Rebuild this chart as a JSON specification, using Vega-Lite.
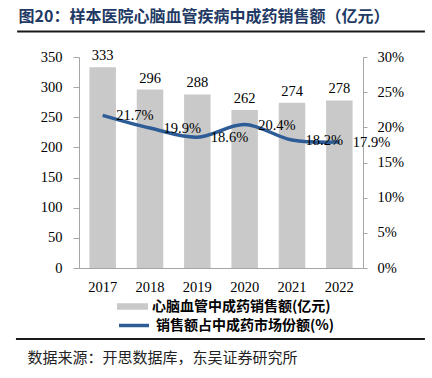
{
  "$schema": "https://vega.github.io/schema/vega-lite/v6.json",
  "width": 284,
  "height": 211,
  "autosize": {"type": "none"},
  "padding": {"left": 79, "top": 57, "right": 69, "bottom": 110},
  "background": "white",
  "view": {"stroke": null},
  "data": {
    "values": [
      {"year": "2017", "sales": 333, "share": 0.217},
      {"year": "2018", "sales": 296, "share": 0.199},
      {"year": "2019", "sales": 288, "share": 0.186},
      {"year": "2020", "sales": 262, "share": 0.204},
      {"year": "2021", "sales": 274, "share": 0.182},
      {"year": "2022", "sales": 278, "share": 0.179}
    ]
  },
  "layer": [
    {
      "data": {"values": [{"a": -0.218, "b": 1.218, "c": 1.121}, {"a": -0.222, "b": 1.218, "c": -0.3365}]},
      "mark": {"type": "rule", "clip": false, "strokeWidth": 2, "color": "#1A1A1A"},
      "encoding": {
        "x": {"field": "a", "type": "quantitative", "scale": {"domain": [0, 1]}, "axis": null},
        "x2": {"field": "b"},
        "y": {"field": "c", "type": "quantitative", "scale": {"domain": [0, 1]}, "axis": null}
      }
    },
    {
      "encoding": {
        "x": {
          "field": "year",
          "type": "nominal",
          "scale": {"paddingInner": 0.44, "paddingOuter": 0.22},
          "axis": {
            "orient": "bottom",
            "grid": false,
            "labelAngle": 0,
            "labelFont": "Liberation Serif",
            "labelFontSize": 14.5,
            "labelColor": "#000000",
            "domainColor": "#A6A6A6",
            "ticks": false,
            "tickSize": 0,
            "labelPadding": 12,
            "title": "数据来源：开思数据库，东吴证券研究所",
            "titleFont": "Noto Sans CJK SC",
            "titleFontSize": 15,
            "titleFontWeight": "normal",
            "titleColor": "#222222",
            "titleAlign": "left",
            "titleAnchor": "start",
            "titleBaseline": "middle",
            "titleX": -52,
            "titleY": 89
          }
        },
        "y": {
          "field": "sales",
          "type": "quantitative",
          "scale": {"domain": [0, 350], "nice": false},
          "axis": {
            "orient": "left",
            "grid": false,
            "values": [0, 50, 100, 150, 200, 250, 300, 350],
            "labelFont": "Liberation Serif",
            "labelFontSize": 14.5,
            "labelColor": "#000000",
            "domainColor": "#A6A6A6",
            "tickColor": "#A6A6A6",
            "tickSize": 6,
            "labelPadding": 11,
            "title": "图20：样本医院心脑血管疾病中成药销售额（亿元）",
            "titleAngle": 0,
            "titleX": -61,
            "titleY": -41,
            "titleAlign": "left",
            "titleAnchor": "start",
            "titleBaseline": "middle",
            "titleFont": "Noto Sans CJK SC",
            "titleFontSize": 16,
            "titleFontWeight": "bold",
            "titleColor": "#1F3A64"
          }
        }
      },
      "layer": [
        {
          "mark": {"type": "bar"},
          "encoding": {
            "fill": {
              "datum": "心脑血管中成药销售额(亿元)",
              "scale": {"range": ["#C9C9C9"]},
              "legend": {
                "orient": "none",
                "legendX": 38,
                "legendY": 234,
                "title": null,
                "padding": 0,
                "labelFont": "Noto Sans CJK SC",
                "labelFontSize": 14,
                "labelFontWeight": "bold",
                "labelColor": "#000000",
                "labelLimit": 0,
                "symbolType": "M-1,-0.21H1V0.21H-1Z",
                "symbolSize": 961,
                "symbolStrokeWidth": 0,
                "symbolOpacity": 1,
                "labelOffset": 4
              }
            }
          }
        },
        {
          "mark": {
            "type": "text",
            "baseline": "bottom",
            "dy": -4,
            "font": "Liberation Serif",
            "fontSize": 14.5,
            "color": "#000000"
          },
          "encoding": {"text": {"field": "sales", "type": "quantitative"}}
        }
      ]
    },
    {
      "encoding": {
        "x": {
          "field": "year",
          "type": "nominal",
          "scale": {"paddingInner": 0.44, "paddingOuter": 0.22},
          "axis": null
        },
        "y": {
          "field": "share",
          "type": "quantitative",
          "scale": {"domain": [0, 0.3], "nice": false},
          "axis": {
            "orient": "right",
            "grid": false,
            "values": [0, 0.05, 0.1, 0.15, 0.2, 0.25, 0.3],
            "format": ".0%",
            "labelFont": "Liberation Serif",
            "labelFontSize": 14.5,
            "labelColor": "#000000",
            "domainColor": "#A6A6A6",
            "tickColor": "#A6A6A6",
            "tickSize": 4,
            "labelPadding": 10,
            "title": null
          }
        }
      },
      "layer": [
        {
          "mark": {"type": "line", "interpolate": "catmull-rom", "strokeWidth": 3.5},
          "encoding": {
            "stroke": {
              "datum": "销售额占中成药市场份额(%)",
              "scale": {"range": ["#2E5C96"]},
              "legend": {
                "orient": "none",
                "legendX": 38,
                "legendY": 251.5,
                "title": null,
                "padding": 0,
                "labelFont": "Noto Sans CJK SC",
                "labelFontSize": 14,
                "labelFontWeight": "bold",
                "labelColor": "#000000",
                "labelLimit": 0,
                "symbolType": "stroke",
                "symbolSize": 900,
                "symbolStrokeWidth": 3.5,
                "labelOffset": 5
              }
            }
          }
        },
        {
          "mark": {
            "type": "text",
            "align": "left",
            "baseline": "middle",
            "dx": 13.5,
            "dy": 1,
            "font": "Liberation Serif",
            "fontSize": 14.5,
            "color": "#000000"
          },
          "encoding": {"text": {"field": "share", "type": "quantitative", "format": ".1%"}}
        }
      ]
    }
  ],
  "resolve": {"scale": {"x": "independent", "y": "independent"}}
}
